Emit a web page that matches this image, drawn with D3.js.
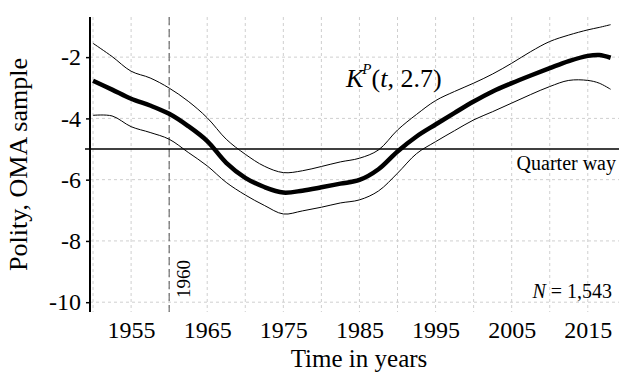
<!DOCTYPE html>
<html>
<head>
  <meta charset="utf-8">
  <title>Polity, OMA sample</title>
  <style>
    body{margin:0;background:#fff;}
    text{font-family:"Liberation Serif","Times New Roman",serif;fill:#000;}
  </style>
</head>
<body>
  <div id="container"></div>
  <script src="https://cdn.jsdelivr.net/npm/d3@7"></script>
  <script>
  // values, every 2.5 years
  var years = [1950,1952.5,1955,1957.5,1960,1962.5,1965,1967.5,1970,1972.5,1975,1977.5,1980,1982.5,
               1985,1987.5,1990,1992.5,1995,1997.5,2000,2002.5,2005,2007.5,2010,2012.5,2015,2016.5,2018];
  var polityMean  = [-2.77,-3.06,-3.36,-3.58,-3.85,-4.25,-4.74,-5.45,-5.94,-6.24,-6.42,-6.36,-6.25,-6.13,
                     -6.01,-5.66,-5.08,-4.59,-4.20,-3.82,-3.45,-3.12,-2.85,-2.60,-2.36,-2.13,-1.96,-1.93,-2.02];
  var polityUpper = [-1.55,-1.98,-2.46,-2.68,-3.01,-3.44,-3.98,-4.68,-5.17,-5.56,-5.77,-5.71,-5.57,-5.42,
                     -5.30,-5.03,-4.38,-3.87,-3.42,-3.12,-2.85,-2.55,-2.20,-1.82,-1.49,-1.28,-1.11,-1.03,-0.94];
  var polityLower = [-3.90,-3.92,-4.27,-4.46,-4.68,-5.11,-5.55,-6.09,-6.50,-6.84,-7.12,-7.02,-6.90,-6.76,
                     -6.66,-6.37,-5.79,-5.15,-4.76,-4.40,-4.05,-3.78,-3.50,-3.22,-2.96,-2.76,-2.76,-2.85,-3.05];
  var xTicks = [1955,1965,1975,1985,1995,2005,2015];
  var xGrid = [1950,1955,1960,1965,1970,1975,1980,1985,1990,1995,2000,2005,2010,2015];
  var yTicks = [-2,-4,-6,-8,-10];
  var quarterWay = -5;
  var markYear = 1960;
  var sampleN = "1,543";

  var W = 619, H = 372;
  var pLeft = 90, pRight = 619, pTop = 17, pBottom = 312;
  var serif = "'Liberation Serif', 'Times New Roman', serif";

  var svg = d3.select("#container").append("svg")
      .attr("width", W)
      .attr("height", H);

  var xScale = d3.scaleLinear().domain([1949.6, 2019.1]).range([pLeft, pRight]);
  var yScale = d3.scaleLinear().domain([-10.32, -0.69]).range([pBottom, pTop]);

  // grid
  svg.append("g").selectAll("line")
    .data(xGrid).enter().append("line")
    .attr("x1", d => xScale(d)).attr("x2", d => xScale(d))
    .attr("y1", pTop).attr("y2", pBottom)
    .attr("stroke", "#cfcfcf").attr("stroke-width", 1)
    .attr("stroke-dasharray", "3,3");

  svg.append("g").selectAll("line")
    .data(yTicks).enter().append("line")
    .attr("x1", pLeft).attr("x2", pRight)
    .attr("y1", d => yScale(d)).attr("y2", d => yScale(d))
    .attr("stroke", "#cfcfcf").attr("stroke-width", 1)
    .attr("stroke-dasharray", "3,3");

  // 1960 marker
  svg.append("line")
    .attr("x1", xScale(markYear)).attr("x2", xScale(markYear))
    .attr("y1", pTop).attr("y2", pBottom)
    .attr("stroke", "#555").attr("stroke-width", 1)
    .attr("stroke-dasharray", "8,4");

  svg.append("text")
    .attr("transform", "translate(" + (xScale(markYear) + 21) + "," + (pBottom - 14) + ") rotate(-90)")
    .style("font-family", serif)
    .style("font-size", "19px")
    .text(String(markYear));

  // y axis
  var yAxis = d3.axisLeft(yScale).tickValues(yTicks).tickSize(4).tickPadding(5)
    .tickFormat(d => String(d));
  var gy = svg.append("g")
    .attr("transform", "translate(" + pLeft + ",0)")
    .call(yAxis)
    .attr("font-family", null);
  gy.select(".domain").attr("stroke", "#000").attr("stroke-width", 2)
    .attr("d", "M0," + pTop + "V" + pBottom);
  gy.selectAll(".tick line").attr("stroke", "#000").attr("stroke-width", 1.5);
  gy.selectAll(".tick text")
    .style("font-family", serif)
    .style("font-size", "24px").attr("fill", "#000");

  // x axis (labels only)
  var xAxis = d3.axisBottom(xScale).tickValues(xTicks).tickSize(0).tickPadding(9)
    .tickFormat(d => String(d));
  var gx = svg.append("g")
    .attr("transform", "translate(0," + pBottom + ")")
    .call(xAxis)
    .attr("font-family", null);
  gx.select(".domain").remove();
  gx.selectAll(".tick text")
    .style("font-family", serif)
    .style("font-size", "24px").attr("fill", "#000");

  // quarter way line
  svg.append("line")
    .attr("x1", pLeft - 5).attr("x2", pRight)
    .attr("y1", yScale(quarterWay)).attr("y2", yScale(quarterWay))
    .attr("stroke", "#000").attr("stroke-width", 1.6);

  svg.append("text")
    .attr("x", 616).attr("y", yScale(quarterWay) + 21)
    .attr("text-anchor", "end")
    .style("font-size", "20px")
    .text("Quarter way");

  // lines
  var line = function(vals){
    return d3.line()
      .x((d, i) => xScale(years[i]))
      .y(d => yScale(d))
      .curve(d3.curveCatmullRom.alpha(0.5))(vals);
  };

  svg.append("path").attr("d", line(polityUpper))
    .attr("fill", "none").attr("stroke", "#000").attr("stroke-width", 1);
  svg.append("path").attr("d", line(polityLower))
    .attr("fill", "none").attr("stroke", "#000").attr("stroke-width", 1);
  svg.append("path").attr("d", line(polityMean))
    .attr("fill", "none").attr("stroke", "#000").attr("stroke-width", 4.5)
    .attr("stroke-linejoin", "round");

  // series label
  var lab = svg.append("text")
    .attr("x", 346).attr("y", 87)
    .style("font-size", "26px");
  lab.append("tspan").style("font-style", "italic").text("K");
  lab.append("tspan").style("font-style", "italic").style("font-size", "15px")
    .attr("dx", -1).attr("dy", -13).text("P");
  lab.append("tspan").attr("dy", 13).text("(");
  lab.append("tspan").style("font-style", "italic").text("t");
  lab.append("tspan").text(", 2.7)");

  // N label
  var nl = svg.append("text")
    .attr("x", 612).attr("y", 298)
    .attr("text-anchor", "end")
    .style("font-size", "20px");
  nl.append("tspan").style("font-style", "italic").text("N");
  nl.append("tspan").text(" = " + sampleN);

  // axis titles
  svg.append("text")
    .attr("transform", "translate(27," + ((pTop + pBottom) / 2) + ") rotate(-90)")
    .attr("text-anchor", "middle")
    .style("font-size", "26px")
    .text("Polity, OMA sample");

  svg.append("text")
    .attr("x", 359).attr("y", 367)
    .attr("text-anchor", "middle")
    .style("font-size", "25px")
    .text("Time in years");
  </script>
</body>
</html>
